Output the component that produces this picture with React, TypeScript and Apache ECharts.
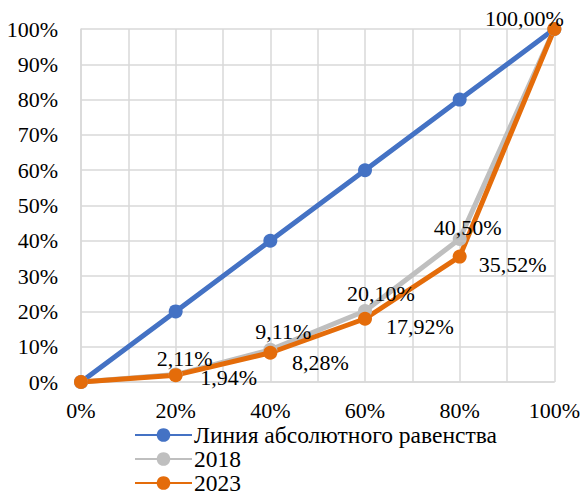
import React, { useEffect, useRef } from "react";
import * as echarts from "echarts";

const xShares = [0, 20, 40, 60, 80, 100];
const equalityValues = [0, 20, 40, 60, 80, 100];
const values2018 = [0, 2.11, 9.11, 20.1, 40.5, 100];
const values2023 = [0, 1.94, 8.28, 17.92, 35.52, 100];
const seriesNames = ["Линия абсолютного равенства", "2018", "2023"];

// label offsets (styling only)
const offsets2018: (number[] | null)[] = [null, [9, -16], [13, -18], [16, -18], [8, -12], null];
const offsets2023: (number[] | null)[] = [null, [53, 2], [50, 10], [55, 8], [53, 8], [-30, -11]];

const FONT = "Liberation Serif";
const fmt = (v: number) => v.toFixed(2).replace(".", ",") + "%";

export default function App() {
  const ref = useRef<HTMLDivElement>(null);
  useEffect(() => {
    if (!ref.current) return;
    document.body.style.margin = "0";
    const chart = echarts.init(ref.current, null, { renderer: "svg" });
    const mk = (vals: number[], offs: (number[] | null)[]) =>
      vals.map((v, i) => ({
        value: [xShares[i], v],
        label: offs[i]
          ? { show: true, position: "inside", offset: offs[i], formatter: fmt(v) }
          : { show: false },
      }));
    const labelStyle = { fontFamily: FONT, fontSize: 22, color: "#000" };
    chart.setOption({
      animation: false,
      textStyle: { fontFamily: FONT },
      grid: { left: 81, top: 29, right: 27, bottom: 115, containLabel: false },
      xAxis: {
        type: "value",
        min: 0,
        max: 100,
        interval: 10,
        axisLine: { show: true, lineStyle: { color: "#D9D9D9", width: 1.5 } },
        axisTick: { show: false },
        splitLine: { show: true, lineStyle: { color: "#D9D9D9", width: 1.5 } },
        axisLabel: {
          margin: 17,
          fontFamily: FONT,
          fontSize: 22,
          color: "#000",
          formatter: (v: number) => (Math.round(v) % 20 === 0 ? `${Math.round(v)}%` : ""),
        },
      },
      yAxis: {
        type: "value",
        min: 0,
        max: 100,
        interval: 10,
        axisLine: { show: true, lineStyle: { color: "#D9D9D9", width: 1.5 } },
        axisTick: { show: false },
        splitLine: { show: true, lineStyle: { color: "#D9D9D9", width: 1.5 } },
        axisLabel: {
          margin: 23,
          fontFamily: FONT,
          fontSize: 22,
          color: "#000",
          formatter: (v: number) => `${Math.round(v)}%`,
        },
      },
      legend: {
        orient: "vertical",
        left: 134,
        top: 423,
        height: 100,
        itemWidth: 57,
        itemHeight: 17,
        itemGap: 0,
        padding: 0,
        textStyle: { fontFamily: FONT, fontSize: 23.5, color: "#000", padding: [0, 0, 0, -3] },
        data: seriesNames,
      },
      series: [
        {
          name: seriesNames[0],
          type: "line",
          data: equalityValues.map((v, i) => [xShares[i], v]),
          lineStyle: { color: "#4472C4", width: 5 },
          itemStyle: { color: "#4472C4" },
          symbol: "circle",
          symbolSize: 14,
        },
        {
          name: seriesNames[1],
          type: "line",
          data: mk(values2018, offsets2018),
          lineStyle: { color: "#BFBFBF", width: 5 },
          itemStyle: { color: "#BFBFBF" },
          symbol: "circle",
          symbolSize: 14,
          label: labelStyle,
        },
        {
          name: seriesNames[2],
          type: "line",
          data: mk(values2023, offsets2023),
          lineStyle: { color: "#E46C0A", width: 5 },
          itemStyle: { color: "#E46C0A" },
          symbol: "circle",
          symbolSize: 14,
          label: labelStyle,
        },
      ],
    });
    return () => chart.dispose();
  }, []);
  return <div ref={ref} style={{ width: 583, height: 497 }} />;
}
